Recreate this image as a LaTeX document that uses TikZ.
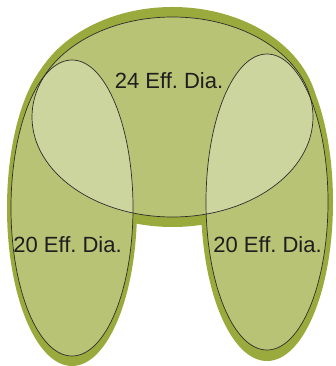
\documentclass[tikz,border=0pt]{standalone}
\usepackage{fontspec}
\setmainfont{Liberation Sans}
\frenchspacing
\definecolor{olivedark}{RGB}{154,170,60}
\definecolor{inkline}{RGB}{45,45,45}
\definecolor{inktext}{RGB}{30,30,30}
\begin{document}
\begin{tikzpicture}[x=1pt,y=-1pt,
  bgshape/.style={fill=olivedark,draw=none},
  lobe/.style={fill=white,fill opacity=0.3,draw=none},
  rim/.style={draw=inkline,line width=0.7pt},
  lbl/.style={text=inktext,font=\fontsize{22}{26}\selectfont,inner sep=0pt}]
\useasboundingbox (0,0) rectangle (336,366);
% outer backing shape
\fill[bgshape] (172.5,117) ellipse [x radius=146, y radius=110];
\fill[bgshape] (72,208) ellipse [x radius=65, y radius=158];
\fill[bgshape] (267,202) ellipse [x radius=66, y radius=159];
% translucent ellipses
\fill[lobe] (172.5,117) ellipse [x radius=140.5, y radius=100];
\fill[lobe] (72,208) ellipse [x radius=61, y radius=148];
\fill[lobe] (267,202) ellipse [x radius=61, y radius=148];
% outlines
\draw[rim] (172.5,117) ellipse [x radius=140.5, y radius=100];
\draw[rim] (72,208) ellipse [x radius=61, y radius=148];
\draw[rim] (267,202) ellipse [x radius=61, y radius=148];
% labels
\node[lbl] (big) at (169,80.5) {24 Eff.\ Dia.};
\node[lbl] (left) at (67.5,245) {20 Eff.\ Dia.};
\node[lbl] (right) at (267.5,245) {20 Eff.\ Dia.};
\end{tikzpicture}
\end{document}
